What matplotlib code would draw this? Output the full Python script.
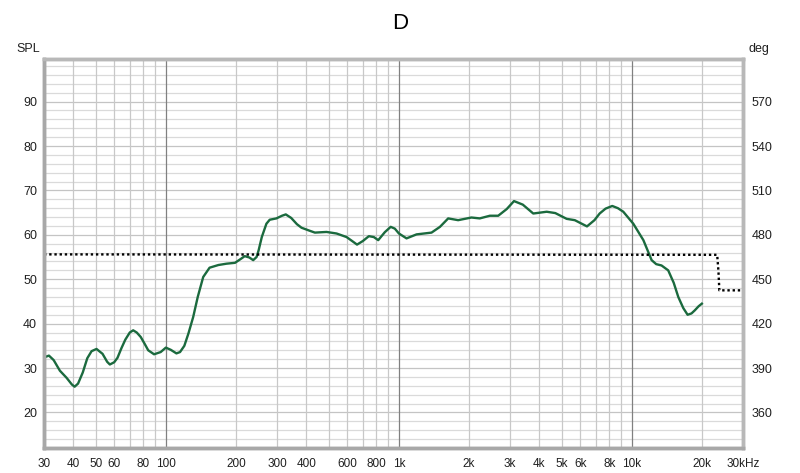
import matplotlib
matplotlib.use("Agg")
import matplotlib.pyplot as plt
from matplotlib.ticker import FixedLocator, NullFormatter

plt.rcParams['font.family'] = ['Liberation Sans', 'DejaVu Sans']

# SPL curve (Hz, dB)
freq = [30, 31.5, 33, 35.1, 37.5, 39.5, 40.6, 42, 44, 46, 48, 50.4, 53.5, 56,
        57.5, 60, 62, 64.5, 67, 70, 72.4, 75, 78, 81, 84, 89, 95, 100, 105,
        111, 115, 120, 125, 131, 137, 144.6, 154, 168, 182, 198, 210, 218,
        228, 237, 245, 250, 258, 270, 279, 298, 315, 327, 345, 365, 382,
        410, 436, 489, 540, 596, 630, 661, 700, 743, 780, 815, 870, 922,
        960, 1000, 1078, 1190, 1380, 1500, 1627, 1795, 2047, 2222, 2456,
        2667, 2900, 3117, 3400, 3770, 4305, 4687, 5244, 5683, 6410, 6900,
        7265, 7700, 8228, 8700, 9176, 10130, 11190, 12140, 12700, 13390,
        14300, 15100, 15800, 16600, 17320, 18000, 18600, 19300, 19940]
spl = [32.4, 32.8, 31.8, 29.4, 27.8, 26.3, 25.8, 26.5, 29.0, 32.2, 33.8,
       34.3, 33.2, 31.4, 30.8, 31.3, 32.3, 34.5, 36.4, 38.0, 38.5, 38.0,
       37.0, 35.5, 34.0, 33.1, 33.6, 34.6, 34.1, 33.3, 33.6, 35.0, 37.8,
       41.5, 46.0, 50.5, 52.6, 53.2, 53.5, 53.7, 54.6, 55.2, 54.9, 54.3,
       55.0, 56.5, 59.5, 62.5, 63.4, 63.7, 64.3, 64.6, 63.8, 62.4, 61.6,
       61.0, 60.5, 60.65, 60.3, 59.5, 58.6, 57.8, 58.6, 59.7, 59.5, 58.8,
       60.6, 61.8, 61.4, 60.3, 59.2, 60.1, 60.5, 61.8, 63.7, 63.3, 63.9,
       63.7, 64.3, 64.3, 65.8, 67.6, 66.8, 64.8, 65.2, 64.9, 63.6, 63.3,
       61.9, 63.3, 64.8, 65.9, 66.5, 66.0, 65.2, 62.5, 58.8, 54.3, 53.4,
       53.1, 52.0, 49.2, 46.0, 43.5, 42.0, 42.3, 43.0, 43.9, 44.5]

# phase trace (deg, right axis)
phase_freq = [30, 23200, 23500, 23700, 30000]
phase_deg = [466.8, 466.5, 455.0, 442.5, 442.5]

x_major = [100, 1000, 10000]
x_minor = [30, 40, 50, 60, 70, 80, 90, 200, 300, 400, 500, 600, 700, 800, 900,
           2000, 3000, 4000, 5000, 6000, 7000, 8000, 9000, 20000]
x_labels = {30: '30', 40: '40', 50: '50', 60: '60', 80: '80', 100: '100',
            200: '200', 300: '300', 400: '400', 600: '600', 800: '800',
            1000: '1k', 2000: '2k', 3000: '3k', 4000: '4k', 5000: '5k',
            6000: '6k', 8000: '8k', 10000: '10k', 20000: '20k', 30000: '30kHz'}
y_ticks = [20, 30, 40, 50, 60, 70, 80, 90]

fig = plt.figure(figsize=(8, 4.73), dpi=100)
ax = fig.add_axes([0.055, 0.0529, 0.874, 0.8224])
ax.set_xscale('log')
ax.set_xlim(30, 30000)
ax.set_ylim(12, 99.6)

# grid: horizontal first, verticals on top so the darker decade lines stay solid
for v in range(14, 100, 2):
    ax.axhline(v, color='#dadada' if v % 10 else '#c4c4c4', lw=0.9, zorder=0)
for f in x_minor:
    ax.axvline(f, color='#c8c8c8', lw=0.9, zorder=0.5)
for f in x_major:
    ax.axvline(f, color='#808080', lw=0.9, zorder=0.6)

ax.plot(freq, spl, color='#1b6a3e', lw=1.7, zorder=3)

ax2 = ax.twinx()
ax2.set_ylim(12 * 3 + 300, 99.6 * 3 + 300)
ax2.plot(phase_freq, phase_deg, color='black', lw=1.7, ls=(0, (1, 1.2)), zorder=2)

ax.xaxis.set_major_locator(FixedLocator(list(x_labels.keys())))
ax.set_xticklabels(list(x_labels.values()))
ax.xaxis.set_minor_formatter(NullFormatter())
ax.xaxis.set_minor_locator(FixedLocator([]))
ax.set_yticks(y_ticks)
ax2.set_yticks([y * 3 + 300 for y in y_ticks])

for a in (ax, ax2):
    a.tick_params(length=0, labelsize=9, colors='#202020')
ax.tick_params(axis='x', labelsize=8.5, pad=7)
ax.tick_params(axis='y', pad=5)
ax2.tick_params(axis='y', pad=6)

for a in (ax, ax2):
    for s in a.spines.values():
        s.set_color('#b8b8b8')
        s.set_linewidth(2.5)
    a.spines['left'].set_color('#a8a8a8')
    a.spines['bottom'].set_color('#a8a8a8')

fig.text(0.5, 0.951, 'D', ha='center', va='center', fontsize=16)
fig.text(0.021, 0.896, 'SPL', ha='left', va='center', fontsize=9, color='#202020')
fig.text(0.936, 0.896, 'deg', ha='left', va='center', fontsize=9, color='#202020')

fig.savefig('out.png', dpi=100)
